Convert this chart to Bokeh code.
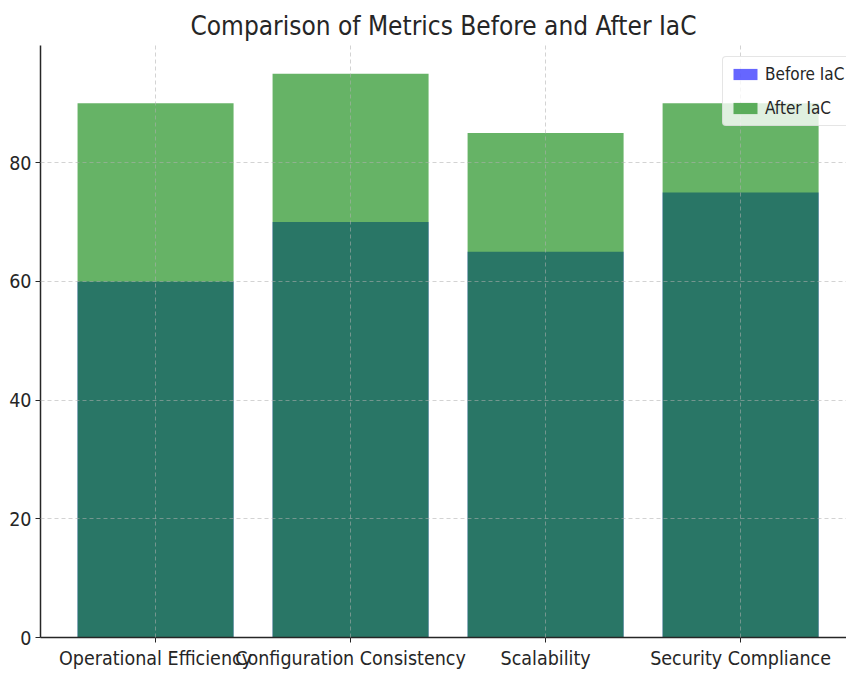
from bokeh.plotting import figure
from bokeh.models import Range1d, FixedTicker, Legend, LegendItem, ColumnDataSource
from bokeh.embed import file_html
from bokeh.resources import INLINE

categories = ["Operational Efficiency", "Configuration Consistency", "Scalability", "Security Compliance"]
before_iac = [60, 70, 65, 75]
after_iac = [90, 95, 85, 90]
y_ticks = [0, 20, 40, 60, 80]

FONT = "DejaVu Sans Condensed"

xs = list(range(len(categories)))
src = ColumnDataSource(dict(x=xs, before=before_iac, after=after_iac))

p = figure(width=846, height=675, output_backend="svg", toolbar_location=None,
           x_range=Range1d(-0.59, 3.543), y_range=Range1d(0, 99.75),
           min_border_left=40, min_border_right=0, min_border_top=45, min_border_bottom=38)

p.title.text = "Comparison of Metrics Before and After IaC"
p.title.align = "center"
p.title.text_font = FONT
p.title.text_font_size = "26px"
p.title.text_font_style = "normal"
p.title.text_color = "#262626"
p.title.standoff = 10

r1 = p.vbar(x="x", top="before", width=0.8, source=src, fill_color="blue", fill_alpha=0.6, line_color=None)
r2 = p.vbar(x="x", top="after", width=0.8, source=src, fill_color="green", fill_alpha=0.6, line_color=None)

p.outline_line_color = None

for ax in (p.xaxis[0], p.yaxis[0]):
    ax.axis_line_color = "#262626"
    ax.axis_line_width = 1.5
    ax.major_tick_line_color = "#262626"
    ax.major_tick_out = 5
    ax.major_tick_in = 0
    ax.minor_tick_line_color = None
    ax.major_label_text_font = FONT
    ax.major_label_text_font_size = "19.5px"
    ax.major_label_text_color = "#262626"
    ax.major_label_standoff = 4

p.xaxis.ticker = FixedTicker(ticks=xs)
p.xaxis.major_label_overrides = {i: c for i, c in enumerate(categories)}
p.yaxis.ticker = FixedTicker(ticks=y_ticks)

for g in (p.xgrid[0], p.ygrid[0]):
    g.grid_line_color = "#b0b0b0"
    g.grid_line_dash = "4 3"
    g.grid_line_alpha = 0.7
    g.grid_line_width = 0.8
    g.level = "overlay"
p.xgrid.ticker = FixedTicker(ticks=xs)
p.ygrid.ticker = FixedTicker(ticks=y_ticks)

legend = Legend(items=[LegendItem(label="Before IaC", renderers=[r1]),
                       LegendItem(label="After IaC", renderers=[r2])],
                location=(682, 511))
legend.label_text_font = FONT
legend.label_text_font_size = "17px"
legend.label_text_color = "#262626"
legend.glyph_width = 30
legend.glyph_height = 14
legend.spacing = 14
legend.padding = 7
legend.margin = 0
legend.border_line_color = "#cccccc"
legend.background_fill_alpha = 0.8
legend.border_radius = 4
p.add_layout(legend)

open("out.html", "w").write(file_html(p, INLINE))
